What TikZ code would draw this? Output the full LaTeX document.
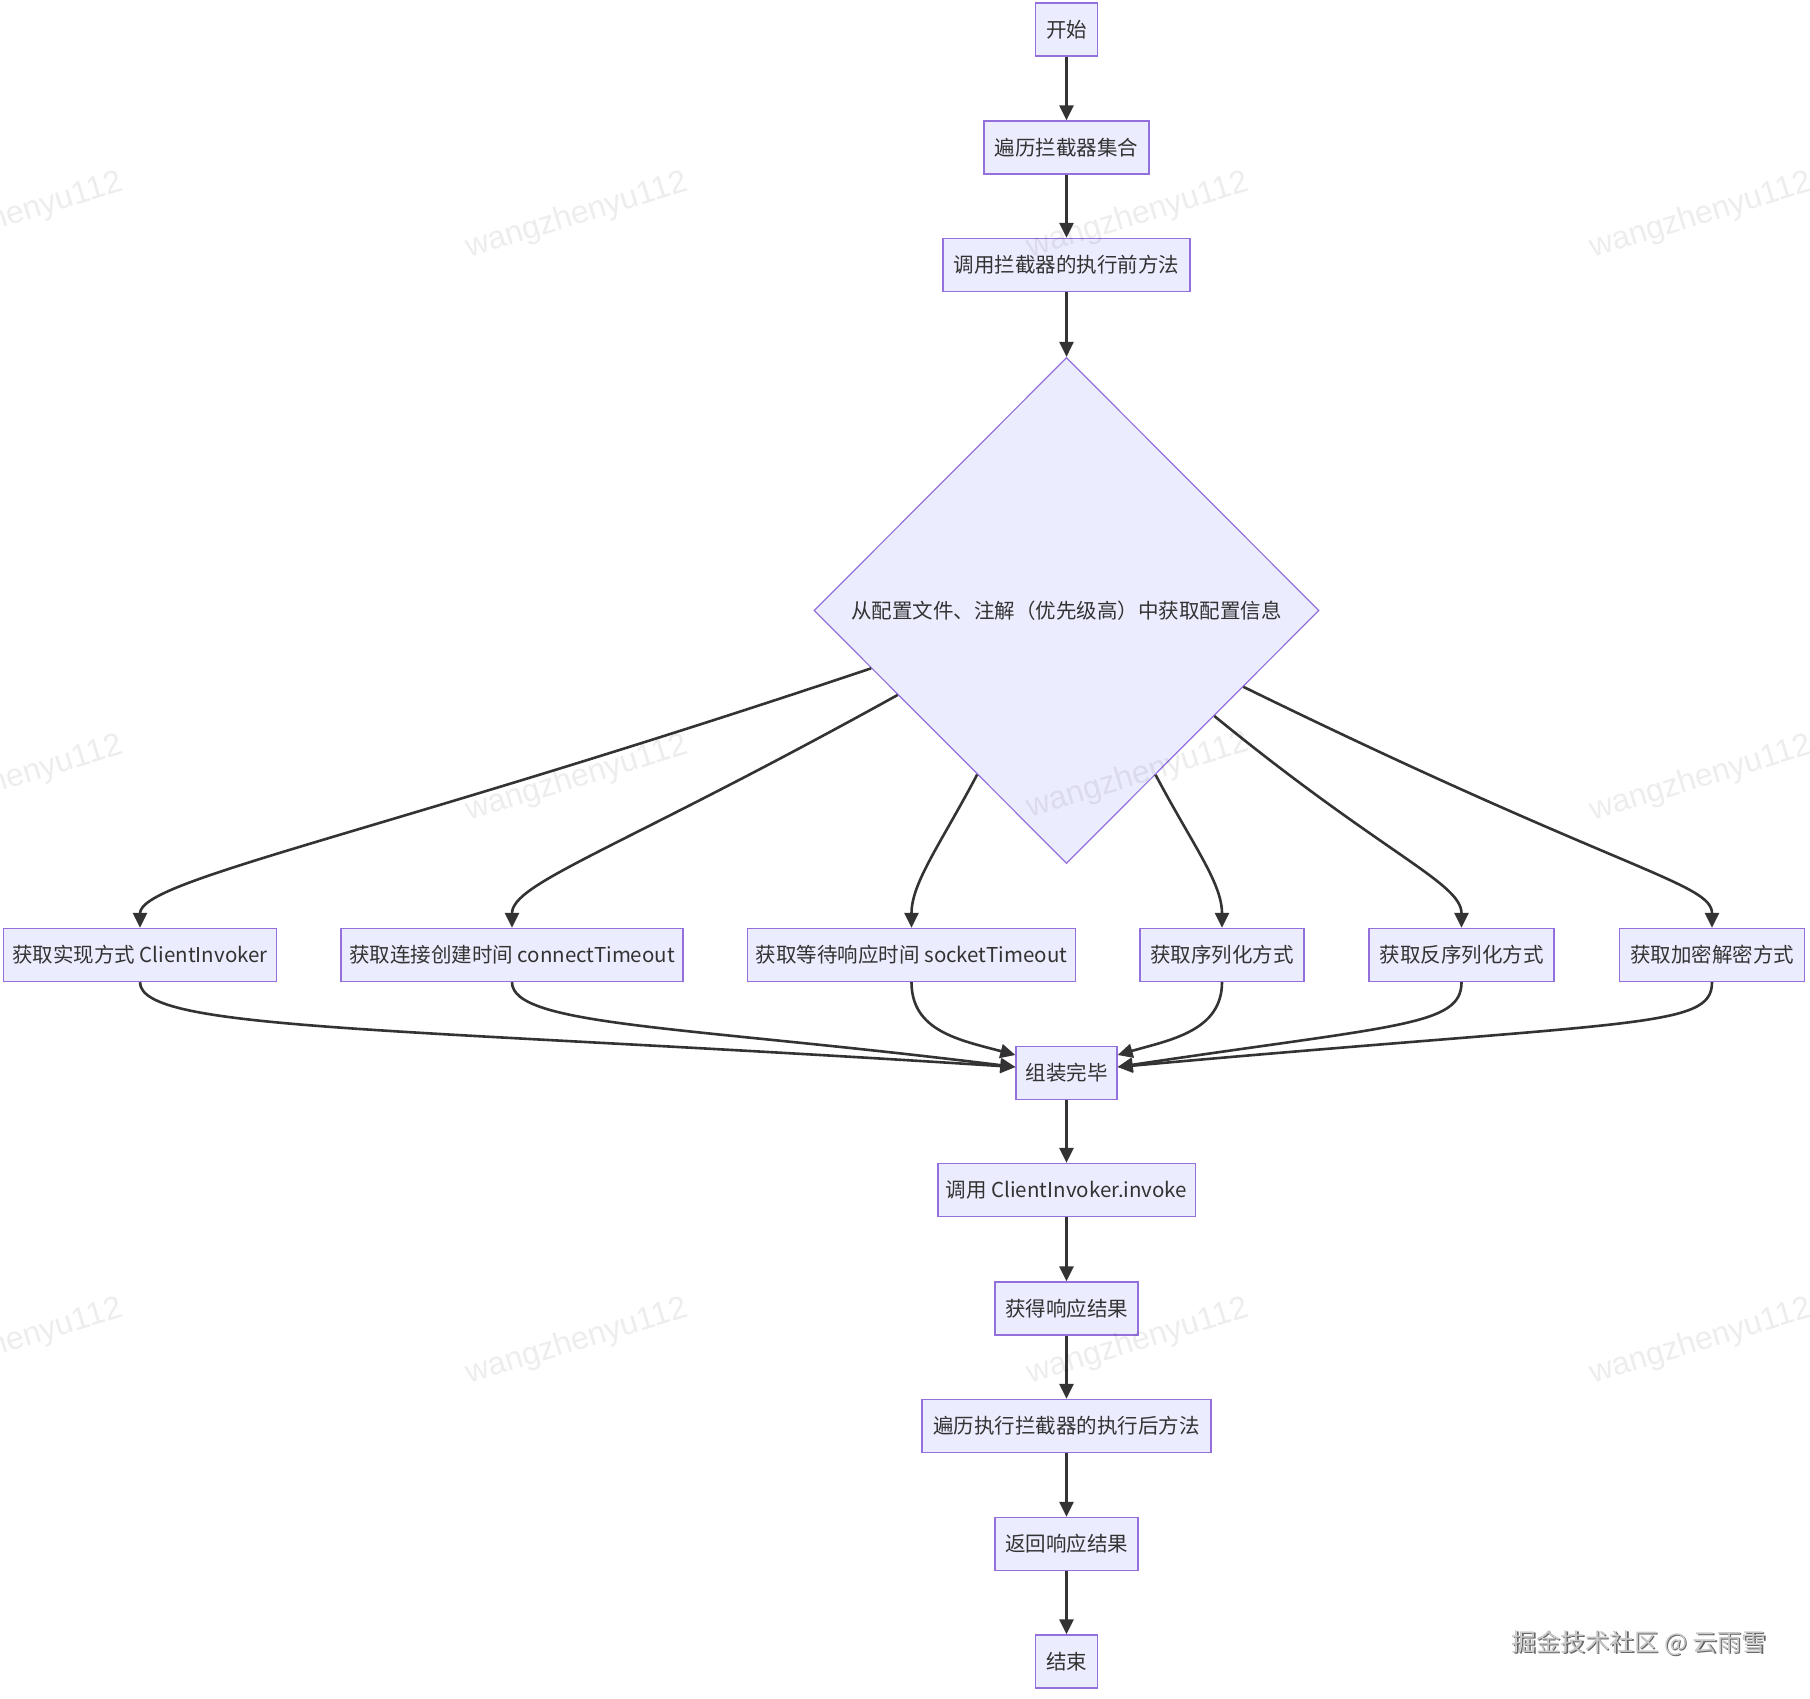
\documentclass[tikz,border=0pt]{standalone}
\usepackage{fontspec}
\setmainfont{Noto Sans CJK SC}
\newfontfamily\wmfont{Liberation Sans}
\usetikzlibrary{arrows.meta,shapes.geometric,calc}
\definecolor{boxfill}{HTML}{ECECFF}
\definecolor{boxline}{HTML}{9370DB}
\definecolor{edgec}{HTML}{333333}
\definecolor{txtc}{HTML}{333333}
\tikzset{
  procbox/.style={draw=boxline, fill=boxfill, line width=1.3pt, minimum height=53pt,
    inner xsep=8pt, inner ysep=0pt, text=txtc, font=\fontsize{20.5}{24}\selectfont},
  decision/.style={shape=diamond, draw=boxline, fill=boxfill, line width=1.2pt,
    minimum width=505pt, minimum height=506pt, inner sep=0pt, text=txtc,
    font=\fontsize{20.5}{24}\selectfont},
  flow/.style={draw=edgec, line width=2.6pt, -{Triangle[length=15pt,width=14pt]}},
  wm/.style={text=black, opacity=0.07, rotate=17, font=\wmfont\fontsize{32}{36}\selectfont},
}
\begin{document}
\begin{tikzpicture}[x=1pt,y=-1pt]
\useasboundingbox[fill=white] (0,0) rectangle (1810,1698);

\node[procbox, minimum width=62pt]  (start) at (1066.5,29.5)  {开始};
\node[procbox, minimum width=165pt] (loop)  at (1066.5,147.5) {遍历拦截器集合};
\node[procbox, minimum width=247pt] (pre)   at (1066.5,265)   {调用拦截器的执行前方法};
\node[decision] (dia) at (1066.5,610.5) {从配置文件、注解（优先级高）中获取配置信息};

\node[procbox, minimum width=273.5pt] (b1) at (140,955)    {获取实现方式 ClientInvoker};
\node[procbox, minimum width=340pt]   (b2) at (512,955)    {获取连接创建时间 connectTimeout};
\node[procbox, minimum width=327pt]   (b3) at (911.5,955)  {获取等待响应时间 socketTimeout};
\node[procbox, minimum width=164pt]   (b4) at (1222,955)   {获取序列化方式};
\node[procbox, minimum width=185pt]   (b5) at (1461.5,955) {获取反序列化方式};
\node[procbox, minimum width=185pt]   (b6) at (1712,955)   {获取加密解密方式};

\node[procbox, minimum width=101pt]   (asm)  at (1066.5,1073)   {组装完毕};
\node[procbox, minimum width=256.5pt] (inv)  at (1066.5,1190)   {调用 ClientInvoker.invoke};
\node[procbox, minimum width=143pt]   (res)  at (1066.5,1308.5) {获得响应结果};
\node[procbox, minimum width=289pt]   (post) at (1066.5,1426)   {遍历执行拦截器的执行后方法};
\node[procbox, minimum width=143pt]   (ret)  at (1066.5,1544)   {返回响应结果};
\node[procbox, minimum width=62pt]    (fin)  at (1066.5,1661.5) {结束};

% straight connectors
\draw[flow] (start) -- (loop);
\draw[flow] (loop) -- (pre);
\draw[flow] (pre) -- (dia.north);
\draw[flow] (asm) -- (inv);
\draw[flow] (inv) -- (res);
\draw[flow] (res) -- (post);
\draw[flow] (post) -- (ret);
\draw[flow] (ret) -- (fin);

% diamond to branches
\draw[flow] ($(dia.west)!0.228!(dia.south)$) .. controls +(-500,168) and +(0,-48) .. (b1.north);
\draw[flow] ($(dia.west)!0.333!(dia.south)$) .. controls +(-280,155) and +(0,-45) .. (b2.north);
\draw[flow] ($(dia.west)!0.647!(dia.south)$) .. controls +(-37,70) and +(0,-45) .. (b3.north);
\draw[flow] ($(dia.south)!0.352!(dia.east)$) .. controls +(37,70) and +(0,-45) .. (b4.north);
\draw[flow] ($(dia.south)!0.584!(dia.east)$) .. controls +(170,139) and +(0,-45) .. (b5.north);
\draw[flow] ($(dia.south)!0.699!(dia.east)$) .. controls +(380,186) and +(0,-45) .. (b6.north);

% branches to assembly
\draw[flow] (b1.south) .. controls +(0,49) and +(-620,-40) .. ($(asm.west)+(0,-6)$);
\draw[flow] (b2.south) .. controls +(0,44) and +(-330,-41) .. ($(asm.west)+(0,-6)$);
\draw[flow] (b3.south) .. controls +(0,49) and +(-56,-15) .. ($(asm.west)+(0,-18)$);
\draw[flow] (b4.south) .. controls +(0,49) and +(52,-15) .. ($(asm.east)+(0,-18)$);
\draw[flow] (b5.south) .. controls +(0,44) and +(280,-42) .. ($(asm.east)+(0,-6)$);
\draw[flow] (b6.south) .. controls +(0,47) and +(520,-47) .. ($(asm.east)+(0,-6)$);

% watermarks
\foreach \wx/\wy [count=\i] in {12/216,577/216,1138/216,1701/216,12/779,577/779,1138/776,1701/779,12/1342,577/1342,1138/1342,1701/1342}{
  \node[wm] (wm\i) at (\wx,\wy) {wangzhenyu112};
}

% site credit
\node[text=black!60, font=\fontsize{24.5}{28}\selectfont] (creditshadow) at (1640.5,1644.5) {掘金技术社区 @ 云雨雪};
\node[text=black!22, font=\fontsize{24.5}{28}\selectfont] (credit) at (1639,1643) {掘金技术社区 @ 云雨雪};
\end{tikzpicture}
\end{document}
